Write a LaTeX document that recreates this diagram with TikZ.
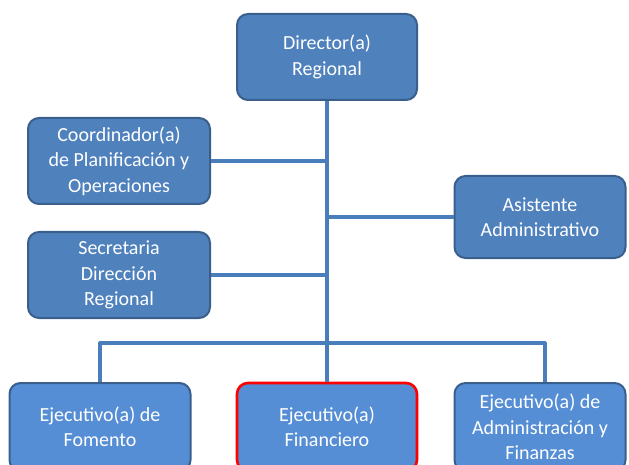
\documentclass[tikz,border=0pt]{standalone}
\usepackage{fontspec}
\setmainfont{Carlito}
\definecolor{boxblue}{HTML}{4F81BD}
\definecolor{boxlight}{HTML}{558ED5}
\definecolor{boxedge}{HTML}{3A5F8C}
\definecolor{linkblue}{HTML}{4A7EBB}
\begin{document}
\begin{tikzpicture}[x=1pt,y=-1pt, line join=round, font=\fontsize{20}{25.5}\selectfont,
  unit/.style={draw=boxedge, line width=2pt, fill=boxblue, rounded corners=11pt,
    text=white, align=center, inner sep=0pt, minimum width=180pt, minimum height=86pt},
  lower/.style={unit, fill=boxlight},
  link/.style={draw=linkblue, line width=3.2pt}]
  \useasboundingbox (0,0) rectangle (629,465);
  \clip (0,0) rectangle (629,465);
  \coordinate (bus) at (327,343);
  \node[unit] (dir) at (327,57) {Director(a)\\Regional};
  \node[unit, minimum width=182pt] (coor) at (119,161) {Coordinador(a)\\de Planificación y\\Operaciones};
  \node[unit, minimum width=171pt, minimum height=82pt] (asis) at (540,217) {Asistente\\Administrativo};
  \node[unit, minimum width=182pt] (secr) at (119,275) {Secretaria\\Dirección\\Regional};
  \node[lower, minimum width=181pt, minimum height=88pt] (fom) at (100,427) {Ejecutivo(a) de\\Fomento};
  \node[lower, draw=red, line width=2.6pt, minimum height=88pt] (fin) at (327,427) {Ejecutivo(a)\\Financiero};
  \node[lower, minimum width=171pt, minimum height=88pt] (adm) at (540,427) {Ejecutivo(a) de\\Administración y\\Finanzas};
  % links
  \draw[link] (dir.south) -- (fin.north);
  \draw[link] (coor.east) -- (coor.east -| dir.south);
  \draw[link] (secr.east) -- (secr.east -| dir.south);
  \draw[link] (asis.west) -- (asis.west -| dir.south);
  \draw[link] (fom.north -| 100,0) |- (bus) -| (adm.north -| 545,0);
\end{tikzpicture}
\end{document}
